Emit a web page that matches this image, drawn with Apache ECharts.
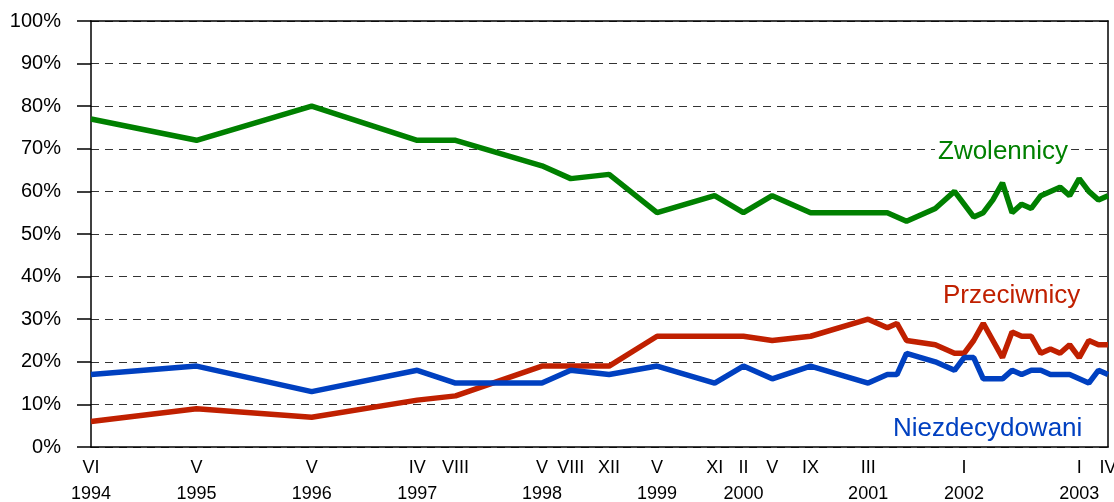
<!DOCTYPE html>
<html>
<head>
<meta charset="utf-8">
<script src="https://cdn.jsdelivr.net/npm/echarts@6/dist/echarts.min.js"></script>
<style>
html,body{margin:0;padding:0;background:#fff;}
#c{width:1114px;height:502px;}
</style>
</head>
<body>
<div id="c"></div>
<script>
// months since VI 1994 (0 = June 1994)
var months = [0,11,23,34,38,47,50,54,59,65,68,71,75,81,83,84,85,88,90,91,92,93,94,95,96,97,98,99,100,101,102,103,104,105,106];
var zwolennicy = [77,72,80,72,72,66,63,64,55,59,55,59,55,55,55,54,53,56,60,57,54,55,58,62,55,57,56,59,60,61,59,63,60,58,59];
var przeciwnicy = [6,9,7,11,12,19,19,19,26,26,26,25,26,30,28,29,25,24,22,22,25,29,25,21,27,26,26,22,23,22,24,21,25,24,24];
var niezdecydowani = [17,19,13,18,15,15,18,17,19,15,19,16,19,15,17,17,22,20,18,21,21,16,16,16,18,17,18,18,17,17,17,16,15,18,17];

var tickMonths = [0,11,23,34,38,47,50,54,59,65,68,71,75,81,91,103,106];
var tickLabels = ['VI\n1994','V\n1995','V\n1996','IV\n1997','VIII','V\n1998','VIII','XII','V\n1999','XI','II\n2000','V','IX','III\n2001','I\n2002','I\n2003','IV'];

function pairs(vals){ return months.map(function(m,i){ return [m, vals[i]]; }); }

var FONT = 'Liberation Sans, Arial, sans-serif';
var chart = echarts.init(document.getElementById('c'), null, {renderer:'canvas'});
var lineBase = {type:'line', showSymbol:false, symbol:'none', animation:false};
chart.setOption({
  animation:false,
  backgroundColor:'#fff',
  grid:{left:91, right:6, top:21, bottom:55, containLabel:false, outerBoundsMode:'none'},
  xAxis:[{
    type:'value', min:0, max:106, position:'bottom',
    axisLine:{show:true, onZero:false, lineStyle:{color:'#000', width:1.5}},
    axisTick:{show:false},
    splitLine:{show:false},
    axisLabel:{
      customValues: tickMonths,
      formatter:function(v){ var i = tickMonths.indexOf(Math.round(v)); return i>=0 ? tickLabels[i] : ''; },
      color:'#000', fontSize:18, fontFamily:FONT, lineHeight:26, margin:8, align:'center',
      showMinLabel:true, showMaxLabel:true, hideOverlap:false
    }
  },{
    type:'value', min:0, max:106, position:'top',
    axisLine:{show:true, onZero:false, lineStyle:{color:'#000', width:1.5}},
    axisTick:{show:false}, axisLabel:{show:false}, splitLine:{show:false}
  }],
  yAxis:[{
    type:'value', min:0, max:100, interval:10, position:'left',
    axisLine:{show:true, onZero:false, lineStyle:{color:'#000', width:1.5}},
    axisTick:{show:true, inside:false, length:14, lineStyle:{color:'#000', width:1.5}},
    axisLabel:{formatter:'{value}%', color:'#000', fontSize:20, fontFamily:FONT, margin:30},
    splitLine:{show:true, lineStyle:{color:'#333', width:1, type:[8,6]}}
  },{
    type:'value', min:0, max:100, interval:10, position:'right',
    axisLine:{show:true, onZero:false, lineStyle:{color:'#000', width:1.5}},
    axisTick:{show:false}, axisLabel:{show:false}, splitLine:{show:false}
  }],
  series:[
    Object.assign({}, lineBase, {name:'Zwolennicy', data:pairs(zwolennicy), lineStyle:{width:5.5, color:'#008000'}, itemStyle:{color:'#008000'}}),
    Object.assign({}, lineBase, {name:'Przeciwnicy', data:pairs(przeciwnicy), lineStyle:{width:5.5, color:'#C02000'}, itemStyle:{color:'#C02000'}}),
    Object.assign({}, lineBase, {name:'Niezdecydowani', data:pairs(niezdecydowani), lineStyle:{width:5.5, color:'#0040C0'}, itemStyle:{color:'#0040C0'}})
  ],
  graphic:[
    {type:'text', left:935, top:139, z:100, style:{text:'Zwolennicy', fill:'#008000', font:'26px '+FONT, backgroundColor:'#fff', padding:[0,3,0,3]}},
    {type:'text', left:943, top:283, z:100, style:{text:'Przeciwnicy', fill:'#C02000', font:'26px '+FONT}},
    {type:'text', left:893, top:416, z:100, style:{text:'Niezdecydowani', fill:'#0040C0', font:'26px '+FONT}}
  ]
});
</script>
</body>
</html>
